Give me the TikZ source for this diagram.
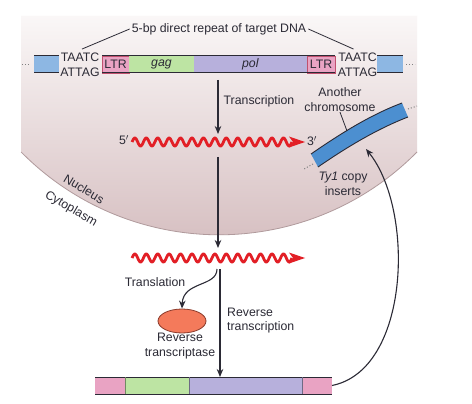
\documentclass[tikz,border=0pt]{standalone}
\usepackage{fontspec}
\setmainfont{Liberation Sans}
\usetikzlibrary{arrows.meta,shapes.geometric,calc}
\definecolor{txt}{HTML}{2B2A35}
\definecolor{nucTop}{HTML}{FAF7F7}
\definecolor{nucBot}{HTML}{D5BDBF}
\definecolor{rim}{HTML}{B09A9C}
\definecolor{flank}{HTML}{8DB7E3}
\definecolor{chrom}{HTML}{4C8FD0}
\definecolor{ltr}{HTML}{E9A3C3}
\definecolor{ltrline}{HTML}{C0506E}
\definecolor{gagc}{HTML}{BDE4A3}
\definecolor{polc}{HTML}{B7B0DC}
\definecolor{rtc}{HTML}{F47A5B}
\definecolor{rtline}{HTML}{8B3B2C}
\definecolor{rnared}{HTML}{E21F26}
\begin{document}
\begin{tikzpicture}[x=1pt,y=-1pt,
  every node/.style={font=\fontsize{12.3}{14.8}\selectfont, text=txt, inner sep=0pt},
  ink/.style={draw=txt, line width=1.3pt},
  arr/.style={ink, -{Stealth[length=8pt,width=6.5pt]}},
  thinarr/.style={draw=txt, line width=1.1pt, -{Stealth[length=8pt,width=6.5pt]}},
  seg/.style={minimum height=17pt, inner sep=0pt, outer sep=0pt},
  wave/.style={draw=rnared, line width=2.8pt},
  lead/.style={draw=txt, line width=0.8pt},
  dots/.style={draw=gray, line width=1pt, dash pattern=on 1pt off 2pt},
  edge/.style={draw=txt, line width=1pt}
]
\useasboundingbox (0,0) rectangle (472,404);
\fill[white] (0,0) rectangle (472,404);

% nucleus
\shade[top color=nucTop, bottom color=nucBot] (21,16) -- (417,16) -- (417,152)
  arc[start angle=44.6, end angle=135.4, radius=278] -- cycle;
\draw[rim, line width=0.8pt] (417,152) arc[start angle=44.6, end angle=135.4, radius=278];
\node[rotate=-31] (nuc) at (84,189) {Nucleus};
\node[rotate=-30] (cyt) at (71,209) {Cytoplasm};

% top element
\node[seg, fill=flank, minimum width=25pt] (blueL) at (46.5,64.5) {};
\node[seg, fill=flank, minimum width=26pt] (blueR) at (390,64.5) {};
\node[seg, fill=ltr, draw=ltrline, line width=0.6pt, minimum width=27pt] (ltrL) at (115.5,64.5) {LTR};
\node[seg, fill=gagc, minimum width=65pt] (gag) at (161.5,64.5) {\textit{gag}};
\node[seg, fill=polc, minimum width=113pt] (pol) at (250.5,64.5) {\textit{pol}};
\node[seg, fill=ltr, draw=ltrline, line width=0.6pt, minimum width=28pt] (ltrR) at (321,64.5) {LTR};
\draw[edge] (ltrL.north west) -- (ltrR.north east);
\draw[edge] (ltrL.south west) -- (ltrR.south east);
\draw[edge] (blueL.north west) -- (blueL.north east);
\draw[edge] (blueL.south west) -- (blueL.south east);
\draw[edge] (blueR.north west) -- (blueR.north east);
\draw[edge] (blueR.south west) -- (blueR.south east);
\draw[dots] (22,65) -- (31,65);
\draw[dots] (406,65) -- (415,65);

\node[align=center] (seqL) at (80,65) {TAATC\\ATTAG};
\node[align=center] (seqR) at (357.5,65) {TAATC\\ATTAG};
\node (lbl) at (219,29) {5-bp direct repeat of target DNA};
\draw[lead] ([xshift=-2pt]lbl.west) -- ($(seqL.north)+(2,-4)$);
\draw[lead] ([xshift=2pt]lbl.east) -- ($(seqR.north)+(-4,-4)$);

% transcription
\coordinate (t1a) at (218,80);
\coordinate (t1b) at (218,134);
\draw[arr] (t1a) -- (t1b);
\node (trl) at (259,101) {Transcription};

% mRNA 1
\coordinate (w1s) at (132,142);
\coordinate (w1e) at (292,142);
\draw[wave] plot[domain=0:160, samples=320, smooth] ({132+\x}, {142 - 4*sin(\x*31.496)});
\fill[rnared] (289,136.5) -- (305,142) -- (289,147.5) -- (293,142) -- cycle;
\node (p5) at (124,140) {5$'$};
\node (p3) at (312,141) {3$'$};

% to cytoplasm
\coordinate (t2a) at (218,157);
\coordinate (t2b) at (218,248);
\draw[arr] (t2a) -- (t2b);

% mRNA 2
\draw[wave] plot[domain=0:160, samples=320, smooth] ({132+\x}, {258 - 4*sin(\x*31.496)});
\fill[rnared] (289,252.5) -- (305,258) -- (289,263.5) -- (293,258) -- cycle;
\coordinate (w2a) at (217,269);
\coordinate (w2b) at (220,269);

% translation
\node[ellipse, draw=rtline, fill=rtc, line width=0.8pt, minimum width=48pt, minimum height=24pt] (rt) at (182,321) {};
\draw[thinarr] (w2a) .. controls (217,287) and (183,281) .. (rt.north);
\node (tln) at (155,282) {Translation};
\node[align=center] (rtl) at (180,346) {Reverse\\transcriptase};

% bottom cDNA
\node[seg, fill=ltr, minimum width=30pt] (pA) at (110,385.5) {};
\node[seg, fill=gagc, minimum width=64pt] (gB) at (157,385.5) {};
\node[seg, fill=polc, minimum width=113pt] (uB) at (245.5,385.5) {};
\node[seg, fill=ltr, minimum width=30pt] (pC) at (317,385.5) {};
\draw[edge] (pA.north west) -- (pC.north east);
\draw[edge] (pA.south west) -- (pC.south east);
\draw[draw=gagc!60!black, line width=0.5pt] (gB.north west) -- (gB.south west);
\draw[draw=polc!60!black, line width=0.5pt] (uB.north west) -- (uB.south west);
\draw[draw=polc!60!black, line width=0.5pt] (pC.north west) -- (pC.south west);

% reverse transcription
\draw[arr] (w2b) -- (uB.north -| w2b);
\node[align=left, anchor=west] (rtr) at (227,320.5) {Reverse\\transcription};

% chromosome
\fill[chrom] (311,154) .. controls (340,134) and (370,115) .. (402,103) -- (408,117)
  .. controls (377,129) and (347,147) .. (318,167) -- cycle;
\draw[ink, line width=0.9pt] (311,154) .. controls (340,134) and (370,115) .. (402,103);
\draw[ink, line width=0.9pt] (318,167) .. controls (347,147) and (377,129) .. (408,117);
\coordinate (chrtop) at (347,131);
\coordinate (chrbot) at (366,149);
\draw[dots] (313,164) -- (304,169);
\draw[dots] (408,109) -- (417,106);
\node[align=center] (chl) at (340,100) {Another\\chromosome};
\draw[lead] (chl.south) -- (chrtop);
\node[align=center] (ins) at (343,184) {\textit{Ty1} copy\\inserts};

% insertion arrow
\draw[thinarr] (pC.east) .. controls (410,370) and (415,210) .. (chrbot);
\end{tikzpicture}
\end{document}
